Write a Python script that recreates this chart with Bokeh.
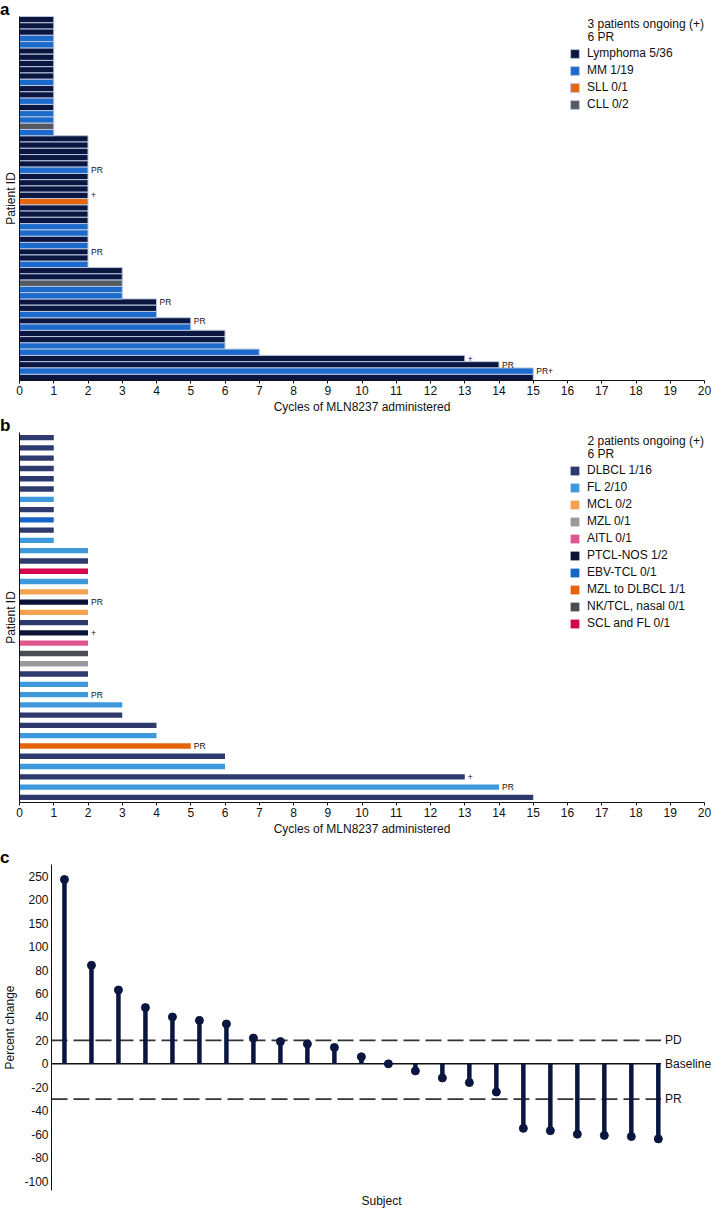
from bokeh.plotting import figure
from bokeh.models import (ColumnDataSource, Range1d, FixedTicker, Legend, LegendItem,
                          Label, CDSView, GroupFilter, Div)
from bokeh.layouts import column
from bokeh.embed import file_html
from bokeh.resources import INLINE
from bokeh.core.properties import value

FONT = "Liberation Sans"

# ---------------- Panel a data (top row first) ----------------
a_categories = ["Lymphoma", "MM", "SLL", "CLL"]
a_legend_labels = ["Lymphoma 5/36", "MM 1/19", "SLL 0/1", "CLL 0/2"]
a_colors = ["#0b1640", "#1c6acb", "#e8650c", "#555960"]
a_types = [
    "Lymphoma", "Lymphoma", "Lymphoma", "MM", "MM", "Lymphoma", "Lymphoma", "Lymphoma",
    "Lymphoma", "Lymphoma", "MM", "Lymphoma", "Lymphoma", "MM", "Lymphoma", "MM", "MM",
    "CLL", "MM",
    "Lymphoma", "Lymphoma", "Lymphoma", "Lymphoma", "Lymphoma", "MM", "Lymphoma",
    "Lymphoma", "Lymphoma", "Lymphoma", "SLL", "Lymphoma", "Lymphoma", "Lymphoma", "MM",
    "MM", "Lymphoma", "MM", "Lymphoma", "Lymphoma", "MM",
    "Lymphoma", "Lymphoma", "CLL", "MM", "MM",
    "Lymphoma", "Lymphoma", "MM",
    "Lymphoma", "MM",
    "Lymphoma", "Lymphoma", "MM",
    "MM",
    "Lymphoma",
    "Lymphoma",
    "MM", "Lymphoma",
]
a_cycles = [
    1, 1, 1, 1, 1, 1, 1, 1, 1, 1, 1, 1, 1, 1, 1, 1, 1, 1, 1,
    2, 2, 2, 2, 2, 2, 2, 2, 2, 2, 2, 2, 2, 2, 2, 2, 2, 2, 2, 2, 2,
    3, 3, 3, 3, 3,
    4, 4, 4,
    5, 5,
    6, 6, 6,
    7,
    13,
    14,
    15, 15,
]
a_notes = [
    "", "", "", "", "", "", "", "", "", "", "", "", "", "", "", "", "", "", "",
    "", "", "", "", "", "PR", "", "", "", "+", "", "", "", "", "", "", "", "", "PR", "", "",
    "", "", "", "", "",
    "PR", "", "",
    "PR", "",
    "", "", "",
    "",
    "+",
    "PR",
    "PR+", "",
]
a_header = ["3 patients ongoing (+)", "6 PR"]

# ---------------- Panel b data (top row first) ----------------
b_categories = ["DLBCL", "FL", "MCL", "MZL", "AITL", "PTCL-NOS", "EBV-TCL",
                "MZL to DLBCL", "NK/TCL, nasal", "SCL and FL"]
b_legend_labels = ["DLBCL 1/16", "FL 2/10", "MCL 0/2", "MZL 0/1", "AITL 0/1",
                   "PTCL-NOS 1/2", "EBV-TCL 0/1", "MZL to DLBCL 1/1",
                   "NK/TCL, nasal 0/1", "SCL and FL 0/1"]
b_colors = ["#2d3a6e", "#3d98dc", "#f5a24e", "#9a9a9e", "#e0578f", "#0b1236",
            "#1565c8", "#e5640a", "#4a4e54", "#d4054e"]
b_types = [
    "DLBCL", "DLBCL", "DLBCL", "DLBCL", "DLBCL", "DLBCL", "FL", "DLBCL", "EBV-TCL",
    "DLBCL", "FL",
    "FL", "DLBCL", "SCL and FL", "FL", "MCL", "PTCL-NOS", "MCL", "DLBCL", "PTCL-NOS",
    "AITL", "NK/TCL, nasal", "MZL", "DLBCL", "FL", "FL",
    "FL", "DLBCL",
    "DLBCL", "FL",
    "MZL to DLBCL",
    "DLBCL", "FL",
    "DLBCL",
    "FL",
    "DLBCL",
]
b_cycles = [
    1, 1, 1, 1, 1, 1, 1, 1, 1, 1, 1,
    2, 2, 2, 2, 2, 2, 2, 2, 2, 2, 2, 2, 2, 2, 2,
    3, 3,
    4, 4,
    5,
    6, 6,
    13,
    14,
    15,
]
b_notes = [
    "", "", "", "", "", "", "", "", "", "", "",
    "", "", "", "", "", "PR", "", "", "+", "", "", "", "", "", "PR",
    "", "",
    "", "",
    "PR",
    "", "",
    "+",
    "PR",
    "",
]
b_header = ["2 patients ongoing (+)", "6 PR"]

# ---------------- Panel c data ----------------
c_change = [243, 84, 63, 48, 40, 37, 34, 22, 19, 17, 14, 6, 0, -6, -12, -16, -24,
            -55, -57, -60, -61, -62, -64]
c_tick_values = [-100, -80, -60, -40, -20, 0, 20, 40, 60, 80, 100, 150, 200, 250]
c_lines = [20, 0, -30]
c_line_labels = ["PD", "Baseline", "PR"]

NAVY = "#0b1640"
ITEM_H = 13.8
ITEM_GAP = 3


def letter_div(t):
    # 20px tall text box, but only 12px in the page flow (the figure below is
    # transparent in its border so the letter stays visible)
    return Div(text=t, width=40, height=20, margin=(0, 0, -8, 0),
               styles={"font-family": FONT, "font-weight": "bold", "font-size": "17px",
                       "line-height": "20px", "color": "#000000"})


def style_common(p):
    p.outline_line_color = None
    p.border_fill_alpha = 0
    p.xgrid.visible = False
    p.ygrid.visible = False
    for ax in p.axis:
        ax.axis_label_text_font = FONT
        ax.axis_label_text_font_style = "normal"
        ax.axis_label_text_font_size = "12px"
        ax.axis_label_text_color = "#111111"
        ax.major_label_text_font = FONT
        ax.major_label_text_font_size = "12px"
        ax.major_label_text_color = "#111111"
        ax.minor_tick_line_color = None
        ax.minor_tick_out = 0
        ax.axis_line_color = "#111111"
        ax.major_tick_line_color = "#111111"


def bar_panel(types, cycles, notes, cats, labels, colors, header,
              height, top, bottom, frame_h, bar_h, outline, first_center, hdr_offs):
    n = len(types)
    rows = list(range(n - 1, -1, -1))
    src = ColumnDataSource(dict(row=rows, cyc=cycles, typ=types, note=notes))
    p = figure(width=711, height=height, x_range=Range1d(0, 20),
               y_range=Range1d(-0.5, n - 0.5), output_backend="svg",
               toolbar_location=None, min_border_left=16, min_border_right=7,
               min_border_top=top, min_border_bottom=bottom)
    items = []
    for cat, lab, col in zip(cats, labels, colors):
        view = CDSView(filter=GroupFilter(column_name="typ", group=cat))
        r = p.hbar(y="row", left=0, right="cyc", height=bar_h, source=src, view=view,
                   fill_color=col, line_color=outline,
                   line_width=1 if outline else 0)
        items.append(LegendItem(label=lab, renderers=[r]))
    p.text(x="cyc", y="row", text="note", source=src, x_offset=3,
           text_baseline="middle", text_align="left", text_font=value(FONT),
           text_font_size="8.5px", text_color="#111111")
    style_common(p)
    p.xaxis.ticker = FixedTicker(ticks=list(range(0, 21)))
    p.xaxis.axis_label = "Cycles of MLN8237 administered"
    p.xaxis.major_tick_out = 3
    p.xaxis.major_tick_in = 0
    p.xaxis.major_label_standoff = 2
    p.xaxis.axis_label_standoff = 2
    p.yaxis.ticker = FixedTicker(ticks=[])
    p.yaxis.axis_label = "Patient ID"
    p.yaxis.axis_label_standoff = 2
    p.yaxis.major_tick_out = 0
    p.yaxis.major_tick_in = 0
    p.yaxis.major_label_standoff = 0
    p.yaxis.major_tick_line_color = None

    k = len(items)
    leg_h = k * ITEM_H + (k - 1) * ITEM_GAP
    top_off = first_center - ITEM_H / 2
    leg = Legend(items=items, location=(550, frame_h - top_off - leg_h),
                 glyph_width=11, glyph_height=11, label_height=12, label_standoff=7,
                 spacing=ITEM_GAP, padding=0, margin=0, border_line_color=None,
                 background_fill_alpha=0, label_text_font=FONT,
                 label_text_font_size="12px", label_text_color="#111111")
    p.add_layout(leg)
    for t, off in zip(header, hdr_offs):
        p.add_layout(Label(x=568, y=frame_h - off, x_units="screen", y_units="screen",
                           text=t, text_baseline="middle", text_font=FONT,
                           text_font_size="12px", text_color="#111111"))
    return p


pa = bar_panel(a_types, a_cycles, a_notes, a_categories, a_legend_labels, a_colors,
               a_header, 404, 4, 36, 364, 1.0, "#b8c4dc", 38, (7, 20))
pb = bar_panel(b_types, b_cycles, b_notes, b_categories, b_legend_labels, b_colors,
               b_header, 420, 4, 46, 370, 0.52, None, 40, (8, 21.5))


def warp(v):
    return v if v <= 100 else 100 + (v - 100) * 0.4


n_c = len(c_change)
c_x = list(range(1, n_c + 1))
c_y = [warp(v) for v in c_change]
csrc = ColumnDataSource(dict(x=c_x, y=c_y, base=[0] * n_c))
x0 = 0.52
pc = figure(width=711, height=350, x_range=Range1d(x0, 24.97), y_range=Range1d(-108, 170),
            output_backend="svg", toolbar_location=None, min_border_left=45,
            min_border_right=0, min_border_top=4, min_border_bottom=18)
for lv, lab in zip(c_lines, c_line_labels):
    if lv == 0:
        pc.line(x=[x0, n_c + 0.1], y=[lv, lv], line_color="#111111", line_width=1.5)
    else:
        pc.line(x=[x0, n_c + 0.1], y=[lv, lv], line_color="#333333", line_width=1.8,
                line_dash="16 6")
pc.text(x=[n_c + 0.25] * len(c_lines), y=c_lines, text=c_line_labels,
        text_baseline="middle", text_align="left", text_font=value(FONT),
        text_font_size="12px", text_color="#111111")
pc.segment(x0="x", y0="base", x1="x", y1="y", source=csrc, line_color=NAVY, line_width=4.5)
pc.scatter(x="x", y="y", source=csrc, size=8, fill_color=NAVY, line_color=NAVY)
style_common(pc)
tick_pos = [warp(v) for v in c_tick_values]
pc.yaxis.ticker = FixedTicker(ticks=tick_pos)
pc.yaxis.major_label_overrides = {tp: str(v) for tp, v in zip(tick_pos, c_tick_values)}
pc.yaxis.major_tick_line_color = None
pc.yaxis.major_tick_out = 0
pc.yaxis.major_tick_in = 0
pc.yaxis.major_label_standoff = 3
pc.yaxis.axis_label = "Percent change"
pc.yaxis.axis_label_standoff = 4
pc.xaxis.ticker = FixedTicker(ticks=[])
pc.xaxis.axis_line_color = None
pc.xaxis.major_tick_line_color = None
pc.xaxis.major_tick_out = 0
pc.xaxis.major_label_standoff = 0
pc.xaxis.axis_label = "Subject"
pc.xaxis.axis_label_standoff = 3

roots = [column(letter_div("a"), pa), column(letter_div("b"), pb),
         column(letter_div("c"), pc)]
open("out.html", "w").write(file_html(roots, INLINE))
